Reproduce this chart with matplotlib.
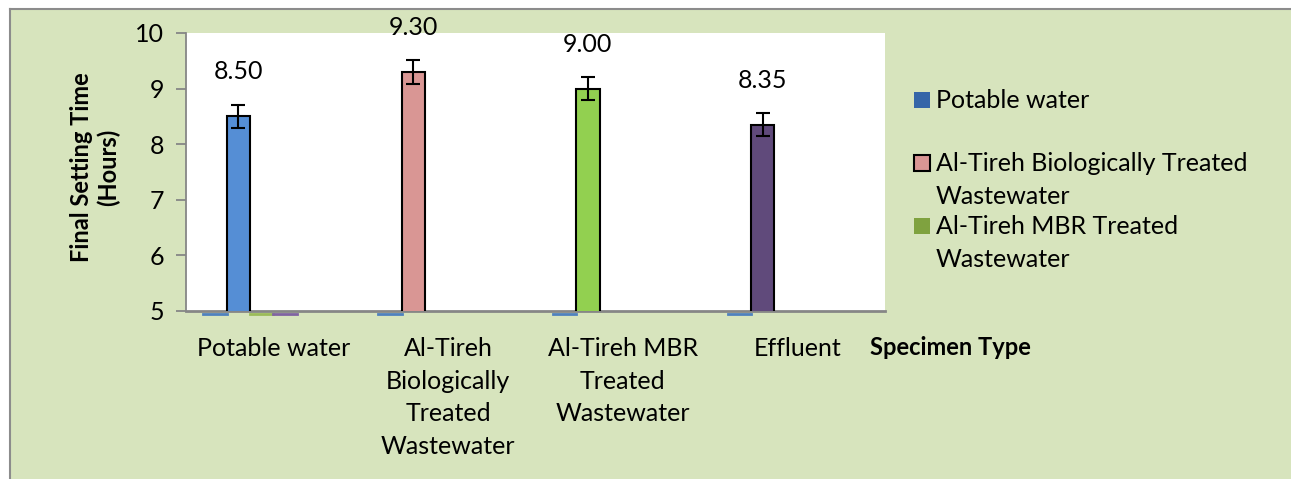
import numpy as np
import matplotlib.pyplot as plt
import matplotlib.transforms as mtransforms
from matplotlib.patches import Rectangle
from matplotlib.lines import Line2D

plt.rcParams['font.family'] = ['Lato', 'DejaVu Sans']

categories = ["Potable water", "Al-Tireh\nBiologically\nTreated\nWastewater",
              "Al-Tireh MBR\nTreated\nWastewater", "Effluent"]
legend_labels = ["Potable water", "Al-Tireh Biologically Treated\nWastewater",
                 "Al-Tireh MBR Treated\nWastewater"]
setting_time = [8.50, 9.30, 9.00, 8.35]
setting_err = [0.21, 0.21, 0.21, 0.21]
# empty series, drawn by Excel as flat stubs on the category axis
stub_blue = [0, 0, 0, 0]
stub_green = [0, None, None, None]
stub_purple = [0, None, None, None]

bar_colors = ["#558ED5", "#D99694", "#92D050", "#604A7B"]
legend_colors = ["#3566A8", "#D99694", "#7FA23F"]
bg = "#D7E4BD"
grey = "#868686"
fs = 18

W, H = 1291, 479
fig = plt.figure(figsize=(W / 100, H / 100), dpi=100)
fig.patch.set_facecolor("white")

def fx(x):
	return x / W

def fy(y):
	return 1 - y / H

# chart area background with its frame
fig.add_artist(Rectangle((fx(10), 0), 1 - fx(10), fy(9), transform=fig.transFigure,
                         facecolor=bg, edgecolor="none", zorder=0))
fig.add_artist(Line2D([fx(10), 1], [fy(9), fy(9)], transform=fig.transFigure, color="#8C8C8C", lw=1.5))
fig.add_artist(Line2D([fx(10), fx(10)], [0, fy(9)], transform=fig.transFigure, color="#8C8C8C", lw=1.5))

ax = fig.add_axes([fx(186), fy(311), (885 - 186) / W, (311 - 33) / H])
ax.set_facecolor("white")

x = np.arange(len(categories))
n_slots = 6
bw = 0.8 / n_slots

def slot(i):
	return -0.4 + bw * (i + 0.5)

ymin, ymax = 5, 10
ax.bar(x + slot(1), setting_time, width=bw, color=bar_colors, edgecolor="black", lw=1.5,
       yerr=setting_err, capsize=5, error_kw=dict(lw=1.5, capthick=1.5, ecolor="black"), zorder=3)

stub_tr = mtransforms.offset_copy(ax.transData, fig=fig, y=-2.5, units="dots")
for vals, i, c in [(stub_blue, 0, "#4F81BD"), (stub_green, 2, "#9BBB59"), (stub_purple, 3, "#8064A2")]:
	for xi, v in zip(x, vals):
		if v is None:
			continue
		xc = xi + slot(i)
		ax.plot([xc - bw / 2, xc + bw / 2], [max(v, ymin)] * 2, color=c, lw=2,
		        transform=stub_tr, clip_on=False, zorder=1)

for xi, v in zip(x, setting_time):
	ax.annotate(f"{v:.2f}", (xi + slot(1), v), xytext=(0, 32), textcoords="offset points",
	            ha="center", va="center", fontsize=fs, annotation_clip=False)

ax.set_xlim(-0.5, len(categories) - 0.5)
ax.set_ylim(ymin, ymax)
ax.set_yticks(range(5, 11))
ax.set_xticks(x)
ax.set_xticklabels(categories, fontsize=fs, linespacing=1.5)
ax.tick_params(axis="x", length=0, pad=19)
ax.tick_params(axis="y", direction="out", length=7, width=1.3, color=grey, pad=9, labelsize=fs)

for s in ["top", "right"]:
	ax.spines[s].set_visible(False)
ax.spines["left"].set_color(grey)
ax.spines["left"].set_linewidth(1.3)
ax.spines["bottom"].set_color(grey)
ax.spines["bottom"].set_linewidth(2)

ax.set_ylabel("Final Setting Time\n(Hours)", fontsize=fs - 1, fontweight="bold", va="center", linespacing=1.2)
ax.yaxis.set_label_coords((95 - 186) / 699, (311 - 167) / 278)
ax.set_xlabel("Specimen Type", fontsize=fs - 1, fontweight="bold", ha="left", va="top")
ax.xaxis.set_label_coords((870 - 186) / 699, -0.09)

# legend drawn by hand to match the Excel layout (entry 4 is cut off)
marker_y = [100, 163, 226]
for c, lab, my in zip(legend_colors, legend_labels, marker_y):
	ec = "black" if c == "#D99694" else "none"
	fig.add_artist(Rectangle((fx(914), fy(my + 8)), 16 / W, 16 / H, transform=fig.transFigure,
	                         facecolor=c, edgecolor=ec, lw=1.5))
	fig.text(fx(936), fy(my - 11), lab, fontsize=fs, ha="left", va="top", linespacing=1.55)

fig.savefig("out.png", dpi=100, facecolor=fig.get_facecolor())
